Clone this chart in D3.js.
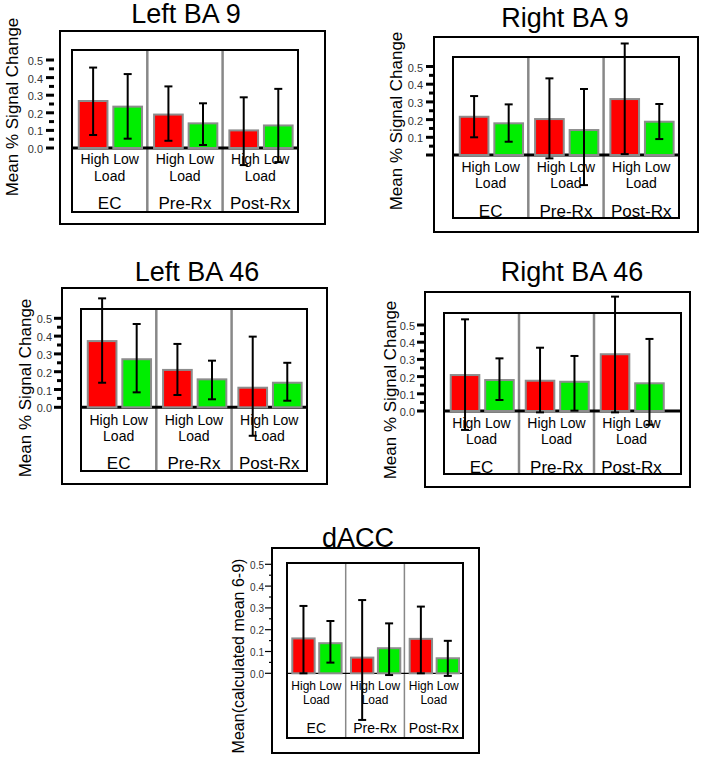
<!DOCTYPE html>
<html>
<head>
<meta charset="utf-8">
<script src="https://cdn.jsdelivr.net/npm/d3@7"></script>
<style>
  html, body { margin: 0; padding: 0; background: #fff; }
  svg { display: block; }
  text { font-family: "Liberation Sans", Arial, sans-serif; fill: #000; }
</style>
</head>
<body>
<svg id="chart" width="704" height="757"></svg>
<script>
// ---------- data ----------
const categories = ["EC", "Pre-Rx", "Post-Rx"];
const loads = ["High", "Low"];
const majorTicks = [0.0, 0.1, 0.2, 0.3, 0.4, 0.5];
const minorTicks = [0.05, 0.15, 0.25, 0.35, 0.45];

const panelTitles = ["Left BA 9", "Right BA 9", "Left BA 46", "Right BA 46", "dACC"];
const yLabels = ["Mean % Signal Change", "Mean % Signal Change", "Mean % Signal Change",
                 "Mean % Signal Change", "Mean(calculated mean 6-9)"];

// Left BA 9
const leftBA9High = [0.267, 0.190, 0.100];
const leftBA9Low  = [0.235, 0.140, 0.128];
const leftBA9HighErr = [[0.074, 0.457], [0.041, 0.350], [-0.097, 0.288]];
const leftBA9LowErr  = [[0.053, 0.420], [0.017, 0.254], [-0.080, 0.336]];

// Right BA 9
const rightBA9High = [0.216, 0.203, 0.316];
const rightBA9Low  = [0.179, 0.141, 0.188];
const rightBA9HighErr = [[0.100, 0.333], [-0.019, 0.433], [0.005, 0.630]];
const rightBA9LowErr  = [[0.075, 0.286], [-0.170, 0.373], [0.090, 0.288]];

// Left BA 46
const leftBA46High = [0.372, 0.210, 0.110];
const leftBA46Low  = [0.270, 0.157, 0.138];
const leftBA46HighErr = [[0.138, 0.612], [0.069, 0.356], [-0.160, 0.397]];
const leftBA46LowErr  = [[0.084, 0.468], [0.045, 0.262], [0.037, 0.250]];

// Right BA 46
const rightBA46High = [0.209, 0.176, 0.330];
const rightBA46Low  = [0.180, 0.170, 0.161];
const rightBA46HighErr = [[-0.110, 0.533], [-0.008, 0.368], [-0.008, 0.665]];
const rightBA46LowErr  = [[0.064, 0.306], [0.002, 0.320], [-0.080, 0.419]];

// dACC
const dACCHigh = [0.160, 0.072, 0.158];
const dACCLow  = [0.138, 0.115, 0.069];
const dACCHighErr = [[0.000, 0.309], [-0.214, 0.336], [0.000, 0.306]];
const dACCLowErr  = [[0.049, 0.240], [-0.008, 0.229], [-0.012, 0.149]];

// ---------- layout (positions & styles only) ----------
const panels = [
  { title: panelTitles[0], ylab: yLabels[0], high: leftBA9High, low: leftBA9Low, highErr: leftBA9HighErr, lowErr: leftBA9LowErr,
    outer: [60, 31, 325, 224], inner: [72, 50, 298, 212], gx0: 72, gw: 75.3, zero: 148, top: 60,
    tickEnd: 54, labelX: 43, showZeroLabel: true, thin: false,
    titleX: 186, titleY: 23, ylabX: 18, ylabY: 107, ylabSize: 17, titleSize: 27,
    txt: [16, 33, 61], txtSize: 14, catSize: 17, tickSize: 11 },
  { title: panelTitles[1], ylab: yLabels[1], high: rightBA9High, low: rightBA9Low, highErr: rightBA9HighErr, lowErr: rightBA9LowErr,
    outer: [434, 37, 698, 232], inner: [453, 57, 679, 218], gx0: 453, gw: 75.3, zero: 155, top: 66.5,
    tickEnd: 434, labelX: 423, showZeroLabel: false, thin: false,
    titleX: 565, titleY: 27, ylabX: 402, ylabY: 121, ylabSize: 17, titleSize: 27,
    txt: [17, 33, 62], txtSize: 14, catSize: 17, tickSize: 11 },
  { title: panelTitles[2], ylab: yLabels[2], high: leftBA46High, low: leftBA46Low, highErr: leftBA46HighErr, lowErr: leftBA46LowErr,
    outer: [62, 288, 327, 484], inner: [81, 309, 307, 471], gx0: 81, gw: 75.3, zero: 407.3, top: 318.3,
    tickEnd: 62, labelX: 52, showZeroLabel: true, thin: false,
    titleX: 197, titleY: 281, ylabX: 31, ylabY: 388, ylabSize: 17, titleSize: 27,
    txt: [18, 34, 62], txtSize: 14, catSize: 17, tickSize: 11 },
  { title: panelTitles[3], ylab: yLabels[3], high: rightBA46High, low: rightBA46Low, highErr: rightBA46HighErr, lowErr: rightBA46LowErr,
    outer: [425, 292, 690, 487], inner: [444, 313, 681, 474], gx0: 444, gw: 75, zero: 411, top: 325,
    tickEnd: 425, labelX: 415, showZeroLabel: true, thin: false,
    titleX: 572, titleY: 281, ylabX: 396, ylabY: 390, ylabSize: 17, titleSize: 27,
    txt: [17, 33, 62], txtSize: 14, catSize: 17, tickSize: 11 },
  { title: panelTitles[4], ylab: yLabels[4], high: dACCHigh, low: dACCLow, highErr: dACCHighErr, lowErr: dACCLowErr,
    outer: [272, 548, 479, 753], inner: [287, 563, 463, 738], gx0: 287, gw: 58.7, zero: 673.3, top: 564.3,
    tickEnd: 272, labelX: 264, showZeroLabel: true, thin: true,
    titleX: 358, titleY: 547, ylabX: 244, ylabY: 656, ylabSize: 16, titleSize: 27,
    txt: [17, 31, 60], txtSize: 12, catSize: 14, tickSize: 10 }
];

const RED = "#ff0000", GREEN = "#00ee00", BORDER = "#8c8c8c";
const svg = d3.select("#chart");

panels.forEach(p => {
  const g = svg.append("g");
  const y = d3.scaleLinear().domain([0, 0.5]).range([p.zero, p.top]);
  const gx = d3.scaleBand().domain(categories).range([p.gx0, p.gx0 + 3 * p.gw]).padding(0);
  const sx = d3.scaleBand().domain(loads).range([p.gw * 0.09, p.gw * 0.93]).paddingInner(0.17).paddingOuter(0);

  // outer box
  g.append("rect")
    .attr("x", p.outer[0]).attr("y", p.outer[1])
    .attr("width", p.outer[2] - p.outer[0]).attr("height", p.outer[3] - p.outer[1])
    .attr("fill", "none").attr("stroke", "#000").attr("stroke-width", 2);

  // inner box
  g.append("rect")
    .attr("x", p.inner[0]).attr("y", p.inner[1])
    .attr("width", p.inner[2] - p.inner[0]).attr("height", p.inner[3] - p.inner[1])
    .attr("fill", "#fff").attr("stroke", "#000").attr("stroke-width", 2);

  // group dividers
  categories.slice(1).forEach(c => {
    g.append("line")
      .attr("x1", gx(c)).attr("x2", gx(c))
      .attr("y1", p.inner[1] + 1).attr("y2", p.inner[3] - 1)
      .attr("stroke", "#888").attr("stroke-width", p.thin ? 1.5 : 2.5);
  });

  // y ticks
  const majorLen = p.thin ? 7 : 8, minorLen = p.thin ? 3 : 5, tw = p.thin ? 1.2 : 3;
  g.selectAll(".maj").data(majorTicks).enter().append("line")
    .attr("x1", p.tickEnd - majorLen).attr("x2", p.tickEnd)
    .attr("y1", d => y(d)).attr("y2", d => y(d))
    .attr("stroke", "#000").attr("stroke-width", tw);
  g.selectAll(".min").data(minorTicks).enter().append("line")
    .attr("x1", p.tickEnd - minorLen).attr("x2", p.tickEnd)
    .attr("y1", d => y(d)).attr("y2", d => y(d))
    .attr("stroke", "#000").attr("stroke-width", tw);
  g.selectAll(".tl").data(majorTicks.filter(d => p.showZeroLabel || d > 0)).enter().append("text")
    .attr("x", p.labelX).attr("y", d => y(d) + 1)
    .attr("text-anchor", "end").attr("dominant-baseline", "central")
    .attr("font-size", p.tickSize)
    .style("fill", "#333")
    .text(d => d3.format(".1f")(d));

  // zero line
  g.append("line")
    .attr("x1", p.inner[0]).attr("x2", p.inner[2])
    .attr("y1", y(0)).attr("y2", y(0))
    .attr("stroke", "#000").attr("stroke-width", p.thin ? 1.2 : 3);

  // bars
  const rows = [];
  categories.forEach((c, i) => {
    rows.push({ cat: c, load: "High", v: p.high[i], e: p.highErr[i], color: RED });
    rows.push({ cat: c, load: "Low", v: p.low[i], e: p.lowErr[i], color: GREEN });
  });
  g.selectAll(".bar").data(rows).enter().append("rect")
    .attr("x", d => gx(d.cat) + sx(d.load))
    .attr("width", sx.bandwidth())
    .attr("y", d => y(d.v))
    .attr("height", d => y(0) - y(d.v))
    .attr("fill", d => d.color)
    .attr("stroke", BORDER).attr("stroke-width", 2);

  // error bars
  const cap = 4;
  rows.forEach(d => {
    const cx = gx(d.cat) + sx(d.load) + sx.bandwidth() / 2;
    g.append("line").attr("x1", cx).attr("x2", cx).attr("y1", y(d.e[0])).attr("y2", y(d.e[1]))
      .attr("stroke", "#000").attr("stroke-width", 2);
    [d.e[0], d.e[1]].forEach(v => {
      g.append("line").attr("x1", cx - cap).attr("x2", cx + cap).attr("y1", y(v)).attr("y2", y(v))
        .attr("stroke", "#000").attr("stroke-width", 2);
    });
  });

  // category / load text
  categories.forEach(c => {
    const cx = gx(c) + gx.bandwidth() / 2;
    g.append("text").attr("x", cx).attr("y", y(0) + p.txt[0])
      .attr("text-anchor", "middle").attr("font-size", p.txtSize).text("High Low");
    g.append("text").attr("x", cx).attr("y", y(0) + p.txt[1])
      .attr("text-anchor", "middle").attr("font-size", p.txtSize).text("Load");
    g.append("text").attr("x", cx).attr("y", y(0) + p.txt[2])
      .attr("text-anchor", "middle").attr("font-size", p.catSize).text(c);
  });

  // title
  g.append("text").attr("x", p.titleX).attr("y", p.titleY)
    .attr("text-anchor", "middle").attr("font-size", p.titleSize).text(p.title);

  // y label
  g.append("text")
    .attr("transform", `translate(${p.ylabX},${p.ylabY}) rotate(-90)`)
    .attr("text-anchor", "middle").attr("font-size", p.ylabSize).text(p.ylab);
});
</script>
</body>
</html>
